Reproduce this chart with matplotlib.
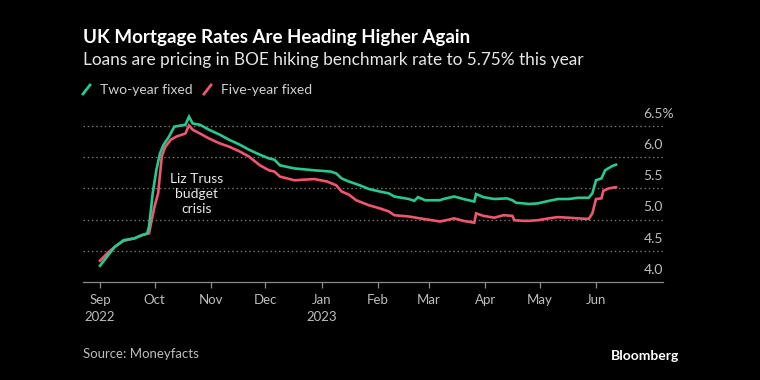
import matplotlib
matplotlib.use("Agg")
import matplotlib.pyplot as plt
import matplotlib.dates as mdates
import pandas as pd
import datetime as dt

plt.rcParams['font.family'] = ['Lato', 'DejaVu Sans']

title = "UK Mortgage Rates Are Heading Higher Again"
subtitle = "Loans are pricing in BOE hiking benchmark rate to 5.75% this year"
source = "Source: Moneyfacts"

two_dates = ["2022-09-01", "2022-09-05", "2022-09-09", "2022-09-14", "2022-09-20", "2022-09-24",
             "2022-09-27", "2022-09-28", "2022-09-29", "2022-09-30", "2022-10-02", "2022-10-04",
             "2022-10-06", "2022-10-09", "2022-10-11", "2022-10-12", "2022-10-18", "2022-10-20",
             "2022-10-22", "2022-10-26", "2022-10-31", "2022-11-06", "2022-11-11", "2022-11-17",
             "2022-11-22", "2022-11-28", "2022-12-03", "2022-12-06", "2022-12-09", "2022-12-17",
             "2022-12-28", "2023-01-06", "2023-01-09", "2023-01-12", "2023-01-16", "2023-01-19",
             "2023-01-22", "2023-01-27", "2023-02-02", "2023-02-07", "2023-02-10", "2023-02-18",
             "2023-02-21", "2023-02-23", "2023-02-27", "2023-03-07", "2023-03-09", "2023-03-15",
             "2023-03-20", "2023-03-26", "2023-03-27", "2023-03-31", "2023-04-06", "2023-04-13",
             "2023-04-16", "2023-04-18", "2023-04-22", "2023-04-25", "2023-04-30", "2023-05-06",
             "2023-05-11", "2023-05-17", "2023-05-22", "2023-05-28", "2023-05-30", "2023-06-01",
             "2023-06-04", "2023-06-06", "2023-06-10", "2023-06-12"]
two_vals = [4.26, 4.41, 4.56, 4.67, 4.70, 4.75,
            4.78, 4.89, 5.15, 5.42, 5.79, 6.06,
            6.20, 6.33, 6.44, 6.49, 6.52, 6.65,
            6.54, 6.52, 6.44, 6.36, 6.28, 6.20,
            6.12, 6.04, 5.98, 5.96, 5.87, 5.82,
            5.79, 5.77, 5.74, 5.66, 5.61, 5.58,
            5.55, 5.49, 5.45, 5.42, 5.37, 5.33,
            5.30, 5.36, 5.31, 5.31, 5.33, 5.37,
            5.33, 5.29, 5.41, 5.36, 5.33, 5.34,
            5.31, 5.27, 5.26, 5.25, 5.26, 5.30,
            5.33, 5.33, 5.35, 5.35, 5.42, 5.63,
            5.66, 5.79, 5.86, 5.88]

five_dates = ["2022-09-01", "2022-09-05", "2022-09-09", "2022-09-14", "2022-09-20", "2022-09-24",
              "2022-09-28", "2022-10-01", "2022-10-03", "2022-10-05", "2022-10-07", "2022-10-10",
              "2022-10-13", "2022-10-18", "2022-10-20", "2022-10-22", "2022-10-26", "2022-10-31",
              "2022-11-06", "2022-11-11", "2022-11-17", "2022-11-22", "2022-11-28", "2022-12-03",
              "2022-12-06", "2022-12-09", "2022-12-17", "2022-12-28", "2023-01-04", "2023-01-09",
              "2023-01-12", "2023-01-16", "2023-01-20", "2023-01-27", "2023-02-02", "2023-02-07",
              "2023-02-10", "2023-02-18", "2023-02-24", "2023-03-07", "2023-03-09", "2023-03-15",
              "2023-03-20", "2023-03-26", "2023-03-27", "2023-03-31", "2023-04-06", "2023-04-11",
              "2023-04-16", "2023-04-17", "2023-04-22", "2023-04-25", "2023-04-30", "2023-05-06",
              "2023-05-11", "2023-05-17", "2023-05-22", "2023-05-28", "2023-05-30", "2023-06-01",
              "2023-06-04", "2023-06-05", "2023-06-08", "2023-06-12"]
five_vals = [4.34, 4.46, 4.56, 4.66, 4.70, 4.75,
             4.78, 5.21, 5.42, 6.01, 6.17, 6.28,
             6.33, 6.38, 6.51, 6.44, 6.38, 6.30,
             6.22, 6.17, 6.09, 6.01, 5.87, 5.79,
             5.77, 5.69, 5.63, 5.65, 5.61, 5.55,
             5.45, 5.40, 5.31, 5.23, 5.18, 5.13,
             5.07, 5.05, 5.02, 4.97, 4.98, 5.02,
             4.98, 4.95, 5.10, 5.06, 5.03, 5.07,
             5.06, 4.99, 4.98, 4.98, 4.99, 5.02,
             5.04, 5.03, 5.02, 5.01, 5.10, 5.33,
             5.34, 5.46, 5.50, 5.52]

series_names = ["Two-year fixed", "Five-year fixed"]
series_colors = ["#26c98f", "#f2556f"]

y_ticks = [4.0, 4.5, 5.0, 5.5, 6.0, 6.5]
month_ticks = ["2022-09-01", "2022-10-01", "2022-11-01", "2022-12-01", "2023-01-01",
               "2023-02-01", "2023-03-01", "2023-04-01", "2023-05-01", "2023-06-01"]
month_labels = ["Sep\n2022", "Oct", "Nov", "Dec", "Jan\n2023", "Feb", "Mar", "Apr", "May", "Jun"]

BG = "#000000"
W, H = 760, 380
fig = plt.figure(figsize=(7.6, 3.8), dpi=100, facecolor=BG)

def fx(px):
    return px / W

def fy(py):
    return 1 - py / H

left, right = 83, 663
y0_px, y1_px = 282, 126   # 4.0 and 6.5
ppu = (y0_px - y1_px) / 2.5
ymin, ymax = 4.0, 6.75
top_px = y0_px - (ymax - ymin) * ppu
ax = fig.add_axes([fx(left), fy(y0_px), fx(right - left), (y0_px - top_px) / H])
ax.set_facecolor(BG)

start = mdates.date2num(dt.datetime(2022, 9, 1))
jun = mdates.date2num(dt.datetime(2023, 6, 1))
ppd = (596 - 100) / (jun - start)
ax.set_xlim(start - (100 - left) / ppd, start + (right - 100) / ppd)
ax.set_ylim(ymin, ymax)

for yv in y_ticks[1:]:
    ax.axhline(yv, color="#777777", lw=0.9, ls=(0, (1.2, 2.2)), zorder=1)

ax.plot(pd.to_datetime(two_dates), two_vals, color=series_colors[0], lw=1.9, zorder=4,
        solid_joinstyle='miter', clip_on=False)
ax.plot(pd.to_datetime(five_dates), five_vals, color=series_colors[1], lw=1.9, zorder=3,
        solid_joinstyle='miter', clip_on=False)

for s in ["top", "right", "left"]:
    ax.spines[s].set_visible(False)
ax.spines["bottom"].set_color("#8a8a8a")
ax.spines["bottom"].set_linewidth(0.9)
ax.set_yticks([])
ax.set_xticks(pd.to_datetime(month_ticks))
ax.set_xticklabels(month_labels, color="#bdbdbd", fontsize=9.5, linespacing=1.45)
ax.tick_params(axis="x", direction="out", length=4, width=0.9, color="#8a8a8a", pad=5)

ytexts = []
for yv in y_ticks:
    lab = f"{yv:.1f}"
    t = ax.text(1.0, yv + 0.1, lab, transform=ax.get_yaxis_transform(), ha="right", va="bottom",
                color="#bdbdbd", fontsize=10)
    ytexts.append(t)

fig.canvas.draw()
top_t = ytexts[-1]
bb = top_t.get_window_extent(fig.canvas.get_renderer())
x0_fig = bb.x0 / (W)
top_label = top_t.get_text() + "%"
top_t.remove()
fig.text(x0_fig, 0, top_label, ha="left", va="bottom", color="#bdbdbd", fontsize=10,
         transform=matplotlib.transforms.blended_transform_factory(fig.transFigure, ax.transData)
         ).set_y(y_ticks[-1] + 0.1)

ax.text(pd.Timestamp("2022-10-24"), 5.74, "Liz Truss\nbudget\ncrisis", ha="center", va="top",
        color="#e8e8e8", fontsize=10, linespacing=1.3, zorder=5)

fig.text(fx(83), fy(38), title, ha="left", va="center", color="white", fontsize=13.5, fontweight="bold")
fig.text(fx(83), fy(60), subtitle, ha="left", va="center", color="#e6e6e6", fontsize=12.4)

# legend
lx = [83, 204]
for i, name in enumerate(series_names):
    x = lx[i]
    fig.add_artist(plt.Line2D([fx(x), fx(x + 7)], [fy(94), fy(85)], color=series_colors[i], lw=2))
    fig.text(fx(x + 17), fy(90), name, ha="left", va="center", color="#d0d0d0", fontsize=10)

fig.text(fx(83), fy(354), source, ha="left", va="center", color="#bdbdbd", fontsize=9.5)
fig.text(fx(679), fy(356), "Bloomberg", ha="right", va="center", color="white", fontsize=10,
         fontweight="bold")

fig.savefig("out.png", dpi=100, facecolor=BG)
